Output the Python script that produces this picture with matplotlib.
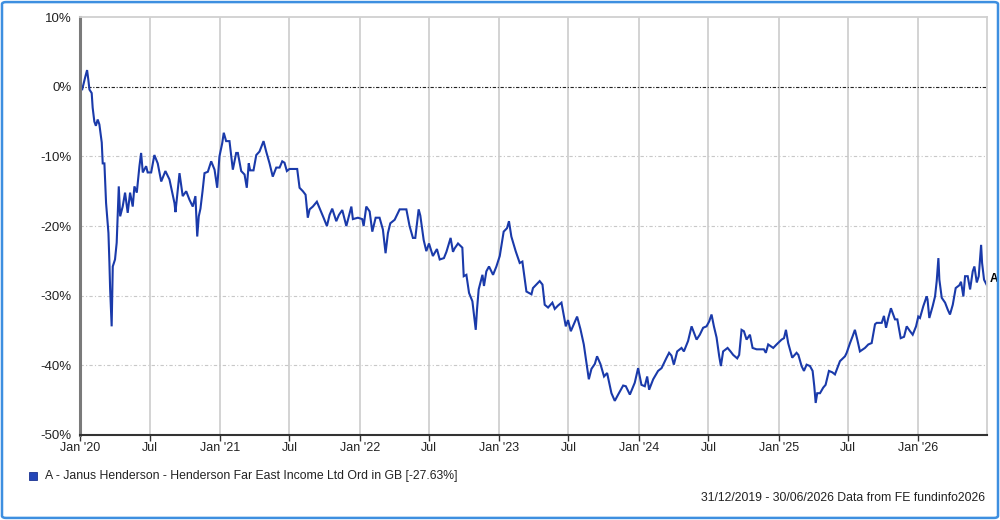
import numpy as np
import pandas as pd
import matplotlib
matplotlib.use("Agg")
import matplotlib.pyplot as plt
import matplotlib.dates as mdates
from matplotlib.patches import Rectangle, FancyBboxPatch

plt.rcParams['font.family'] = ['Liberation Sans', 'DejaVu Sans']

# time as years elapsed since 1 Jan 2020, cumulative return in %
years = [
    -0.003, 0.014, 0.036, 0.048, 0.057, 0.065, 0.081, 0.088, 0.100, 0.111, 0.124, 0.136,
    0.153, 0.160, 0.172, 0.184, 0.201, 0.208, 0.213, 0.224, 0.232, 0.248, 0.260, 0.267,
    0.275, 0.285, 0.303, 0.320, 0.339, 0.356, 0.375, 0.387, 0.404, 0.423, 0.435, 0.447,
    0.471, 0.482, 0.507, 0.530, 0.554, 0.579, 0.609, 0.638, 0.674, 0.681, 0.710, 0.733,
    0.758, 0.781, 0.805, 0.824, 0.837, 0.848,
    0.860, 0.875, 0.889, 0.913, 0.937, 0.961, 0.980, 0.996, 1.016, 1.027, 1.044, 1.068,
    1.092, 1.116, 1.128, 1.152, 1.176, 1.192, 1.206, 1.216, 1.240, 1.260, 1.283, 1.312,
    1.331, 1.355, 1.378, 1.403, 1.427, 1.446, 1.462, 1.479, 1.498, 1.553, 1.570, 1.594,
    1.613, 1.629, 1.642, 1.665, 1.694, 1.713, 1.742, 1.766, 1.785, 1.804, 1.833, 1.852,
    1.876, 1.905, 1.941, 1.952, 1.988, 2.019, 2.029, 2.048, 2.072, 2.091, 2.115, 2.143,
    2.167, 2.186, 2.203, 2.220, 2.251, 2.287, 2.335,
    2.358, 2.382, 2.399, 2.423, 2.435, 2.459, 2.478, 2.497, 2.525, 2.554, 2.574, 2.604,
    2.622, 2.652, 2.669, 2.681, 2.705, 2.736, 2.746, 2.765, 2.784, 2.808, 2.832, 2.841,
    2.853, 2.880, 2.891, 2.908, 2.927, 2.956, 2.980, 3.004, 3.032, 3.056, 3.070, 3.087,
    3.118, 3.147, 3.166, 3.195, 3.231, 3.242, 3.290, 3.310, 3.326, 3.350, 3.381, 3.398,
    3.422,
    3.446, 3.477, 3.493, 3.513, 3.558, 3.582, 3.606, 3.642, 3.661, 3.685, 3.701, 3.725,
    3.751, 3.773, 3.804, 3.828, 3.852, 3.888, 3.907, 3.936, 3.971, 3.995, 4.019, 4.043,
    4.060, 4.074, 4.103, 4.138, 4.163, 4.199, 4.217, 4.234, 4.251, 4.275, 4.306, 4.323,
    4.353, 4.378, 4.414, 4.437, 4.461, 4.485, 4.504, 4.521, 4.538, 4.557, 4.576, 4.588,
    4.604, 4.636, 4.657, 4.676, 4.705, 4.719, 4.736, 4.753, 4.772, 4.796, 4.815, 4.844,
    4.896, 4.910, 4.927, 4.963, 4.987, 5.023, 5.040, 5.054, 5.070,
    5.099, 5.130, 5.143, 5.166, 5.183, 5.202, 5.226, 5.245, 5.257, 5.267, 5.278, 5.298,
    5.321, 5.338, 5.362, 5.386, 5.405, 5.441, 5.477, 5.489, 5.513, 5.532, 5.548, 5.565,
    5.584, 5.620, 5.644, 5.668, 5.692, 5.704, 5.740, 5.756, 5.771, 5.787, 5.806, 5.835,
    5.852, 5.876, 5.900, 5.919, 5.943, 5.962, 5.986, 6.002, 6.014, 6.038, 6.062, 6.068,
    6.081, 6.105, 6.122, 6.134, 6.146, 6.153, 6.170, 6.194, 6.213, 6.229, 6.249, 6.270,
    6.296, 6.308, 6.325, 6.337, 6.356, 6.373, 6.392, 6.404, 6.421, 6.435, 6.452, 6.459,
    6.473, 6.496,
]
returns = [
    0.0, -0.3, 1.5, 2.4, 1.0, -0.4, -0.9, -3.0, -5.0, -5.6, -4.7, -5.4,
    -8.0, -11.0, -11.0, -16.7, -21.0, -25.3, -29.0, -34.4, -25.8, -24.8, -22.4, -18.6,
    -14.3, -18.6, -17.2, -15.2, -18.1, -15.2, -17.2, -14.3, -15.2, -11.4, -9.5, -12.3,
    -11.4, -12.3, -12.3, -9.8, -11.0, -13.6, -12.1, -13.3, -16.7, -18.0, -12.4, -15.7,
    -15.0, -16.2, -17.2, -15.7, -21.5, -18.6,
    -17.5, -15.0, -12.4, -12.2, -10.7, -11.9, -14.5, -10.0, -8.1, -6.6, -7.8, -7.8,
    -11.9, -9.5, -9.5, -12.1, -12.6, -14.5, -11.0, -12.0, -12.0, -9.8, -9.3, -7.8,
    -9.3, -11.0, -12.9, -11.6, -11.6, -10.7, -10.9, -12.1, -11.8, -11.8, -14.5, -15.0,
    -15.5, -18.8, -17.6, -17.2, -16.5, -17.4, -18.8, -20.0, -18.4, -17.5, -19.3, -18.4,
    -17.7, -20.0, -17.2, -19.0, -18.8, -19.0, -20.0, -17.2, -17.9, -20.8, -18.8, -18.8,
    -20.5, -23.9, -21.0, -19.6, -19.1, -17.6, -17.6,
    -20.0, -21.7, -21.7, -17.6, -18.5, -22.0, -23.6, -22.5, -24.3, -23.3, -24.8, -24.6,
    -23.7, -21.7, -23.7, -23.2, -22.5, -23.1, -27.2, -27.0, -29.6, -30.8, -34.9, -32.0,
    -29.1, -27.0, -28.6, -26.5, -25.8, -27.0, -25.8, -24.3, -20.8, -20.3, -19.3, -21.5,
    -23.6, -25.3, -25.1, -29.4, -29.8, -28.9, -27.9, -28.4, -31.3, -31.7, -31.0, -31.9,
    -31.4,
    -31.0, -34.4, -33.5, -35.1, -33.0, -34.8, -37.0, -42.0, -40.5, -39.8, -38.7, -39.8,
    -41.6, -41.1, -44.0, -45.1, -44.2, -42.9, -43.0, -44.2, -42.5, -40.4, -42.8, -43.0,
    -41.6, -43.5, -42.0, -40.8, -40.4, -38.9, -38.2, -38.6, -39.9, -38.0, -37.5, -38.0,
    -36.5, -34.4, -36.3, -35.6, -34.6, -34.4, -33.7, -32.7, -34.4, -36.0, -38.7, -40.1,
    -38.0, -37.5, -38.0, -38.5, -39.0, -38.5, -34.9, -35.1, -36.3, -35.6, -37.5, -37.7,
    -37.7, -38.2, -37.0, -37.5, -37.0, -36.3, -36.1, -34.9, -36.8,
    -38.9, -38.2, -38.5, -40.1, -40.8, -39.9, -40.1, -40.8, -43.0, -45.4, -44.0, -44.0,
    -43.2, -42.8, -40.8, -41.0, -41.3, -39.4, -38.7, -38.2, -36.8, -35.8, -34.9, -36.3,
    -38.0, -37.5, -37.0, -36.8, -34.1, -33.9, -33.9, -32.9, -34.6, -33.2, -31.8, -33.4,
    -33.4, -36.1, -35.9, -34.4, -35.1, -35.6, -34.4, -33.0, -33.2, -31.5, -30.1, -30.5,
    -33.2, -31.5, -30.1, -27.9, -24.6, -27.7, -30.3, -31.0, -32.0, -32.7, -31.3, -28.9,
    -28.5, -28.0, -30.1, -27.2, -27.2, -29.1, -26.5, -25.8, -28.1, -27.2, -22.7, -25.3,
    -27.7, -28.6,
]

series_name = "A - Janus Henderson - Henderson Far East Income Ltd Ord in GB [-27.63%]"
footer = "31/12/2019 - 30/06/2026 Data from FE fundinfo2026"
y_ticks = [-50, -40, -30, -20, -10, 0, 10]

dates = pd.Timestamp("2020-01-01") + pd.to_timedelta(np.array(years) * 365.25, unit="D")

fig = plt.figure(figsize=(10, 5.2), dpi=100)
ax = fig.add_axes([0.080, 0.1635, 0.907, 0.8035])

line_color = "#1a3aaa"
ax.plot(dates, returns, color=line_color, lw=1.5, solid_joinstyle="miter")

ax.set_xlim(pd.Timestamp("2019-12-31"), pd.Timestamp("2026-06-30"))
ax.set_ylim(-50, 10)

ax.xaxis.set_major_locator(mdates.MonthLocator(bymonth=[1, 7]))


def fmt_date(x, pos=None):
    d = mdates.num2date(x)
    if d.month == 1:
        return "Jan '" + d.strftime("%y")
    return "Jul"


ax.xaxis.set_major_formatter(plt.FuncFormatter(fmt_date))
ax.set_yticks(y_ticks)
ax.set_yticklabels([f"{t}%" for t in y_ticks])

ax.tick_params(axis="x", length=4, width=1, color="#333333", labelsize=9, pad=1,
               labelcolor="#222222")
ax.tick_params(axis="y", length=0, labelsize=9.5, pad=6, labelcolor="#222222")

# vertical grid solid, horizontal grid dashed
for d in ax.get_xticks():
    ax.axvline(d, color="#d0d0d0", lw=1.3, zorder=0)
for t in [-40, -30, -20, -10]:
    ax.axhline(t, color="#c8c8c8", lw=0.8, ls=(0, (3, 2, 1, 2)), zorder=0)
ax.axhline(0, color="#222222", lw=0.8, ls=(0, (3, 1.5, 1, 1.5)), zorder=1)

for side in ["top", "right"]:
    ax.spines[side].set_color("#d0d0d0")
    ax.spines[side].set_linewidth(1.3)
ax.spines["left"].set_color("#7a7a7a")
ax.spines["left"].set_linewidth(2.2)
ax.spines["bottom"].set_color("#333333")
ax.spines["bottom"].set_linewidth(1.5)

# end-of-series label
ax.annotate("A", xy=(dates[-1], -27.63), xytext=(2, 0), textcoords="offset points",
            ha="left", va="center", fontsize=8.5, fontweight="bold", annotation_clip=False)

# legend
fig.patches.append(Rectangle((0.029, 0.077), 0.008, 0.016, transform=fig.transFigure,
                             facecolor="#2446b8", edgecolor="#1a3290", lw=0.6))
fig.text(0.045, 0.084, series_name, fontsize=8.8, va="center", ha="left", color="#222222")
fig.text(0.985, 0.043, footer, fontsize=8.8, va="center", ha="right", color="#222222")

# outer frame
fig.patches.append(FancyBboxPatch((0.002, 0.004), 0.996, 0.992, transform=fig.transFigure,
                                  boxstyle="round,pad=0,rounding_size=0.004",
                                  facecolor="none", edgecolor="#3d8fe0", lw=1.8))

fig.savefig("out.png", dpi=100)
